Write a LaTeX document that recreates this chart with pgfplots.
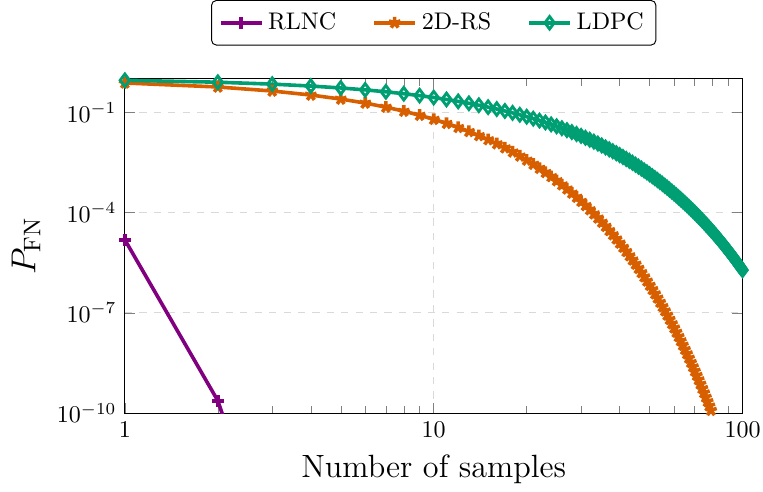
\documentclass[border=0pt]{standalone}
\usepackage{pgfplots}
\pgfplotsset{compat=1.18}
\definecolor{rlnc}{RGB}{128,0,128}
\definecolor{rscol}{RGB}{215,95,0}
\definecolor{ldpc}{RGB}{0,158,115}
\begin{document}
\begin{tikzpicture}
\begin{axis}[
    xmode=log, ymode=log,
    scale only axis,
    width=257pt, height=139pt,
    xmin=1, xmax=100, ymin=1e-10, ymax=1,
    xtick={1,10,100}, xticklabels={1,10,100},
    xticklabel style={inner xsep=1pt},
    ytick={1e-10,1e-7,1e-4,1e-1},
    grid=major,
    major grid style={dashed, gray!30},
    xlabel={Number of samples},
    ylabel={$P_{\mathrm{FN}}$},
    xlabel style={font=\fontsize{13.4}{16}\selectfont},
    ylabel style={font=\Large},
    legend columns=3,
    legend style={at={(0.5,1.1)}, anchor=south, rounded corners=2pt,
        inner ysep=3pt,
        /tikz/every even column/.append style={column sep=13pt}},
]
\addplot[color=rlnc, line width=1.5pt, mark=+, mark size=2.5pt] coordinates {
(1,1.53e-5) (2,2.33e-10) (3,3.55e-15)
};
\addplot[color=rscol, line width=1.5pt, mark=star, mark size=2.5pt] coordinates {
(1,0.7584) (2,0.5751) (3,0.4359) (4,0.3303) (5,0.2502) (6,0.1895) (7,0.1434) (8,0.1085) (9,0.0821) (10,0.06209)
(11,0.04695) (12,0.03548) (13,0.02681) (14,0.02025) (15,0.01529) (16,0.01154) (17,0.008705) (18,0.006566) (19,0.004953) (20,0.003733)
(21,0.002812) (22,0.002119) (23,0.001596) (24,0.001201) (25,9.043e-4) (26,6.803e-4) (27,5.116e-4) (28,3.847e-4) (29,2.893e-4) (30,2.173e-4)
(31,1.632e-4) (32,1.226e-4) (33,9.2e-5) (34,6.904e-5) (35,5.178e-5) (36,3.884e-5) (37,2.912e-5) (38,2.183e-5) (39,1.635e-5) (40,1.225e-5)
(41,9.169e-6) (42,6.863e-6) (43,5.135e-6) (44,3.841e-6) (45,2.873e-6) (46,2.148e-6) (47,1.605e-6) (48,1.199e-6) (49,8.956e-7) (50,6.683e-7)
(51,4.988e-7) (52,3.722e-7) (53,2.776e-7) (54,2.07e-7) (55,1.543e-7) (56,1.15e-7) (57,8.562e-8) (58,6.376e-8) (59,4.747e-8) (60,3.532e-8)
(61,2.627e-8) (62,1.954e-8) (63,1.453e-8) (64,1.08e-8) (65,8.023e-9) (66,5.957e-9) (67,4.423e-9) (68,3.283e-9) (69,2.436e-9) (70,1.807e-9)
(71,1.34e-9) (72,9.934e-10) (73,7.362e-10) (74,5.454e-10) (75,4.04e-10) (76,2.991e-10) (77,2.213e-10) (78,1.637e-10) (79,1.211e-10) (80,8.954e-11)
};
\addplot[color=ldpc, line width=1.5pt, mark=diamond, mark size=2.6pt, mark options={fill=none, line width=1.2pt}] coordinates {
(1,0.912) (2,0.799) (3,0.700) (4,0.6135) (5,0.5375) (6,0.471) (7,0.4127) (8,0.3616) (9,0.3168) (10,0.2776)
(11,0.2433) (12,0.2132) (13,0.1868) (14,0.1637) (15,0.1434) (16,0.1257) (17,0.1101) (18,0.09642) (19,0.08449) (20,0.07403)
(21,0.06487) (22,0.05683) (23,0.0498) (24,0.04363) (25,0.03823) (26,0.0335) (27,0.02935) (28,0.02572) (29,0.02254) (30,0.01975)
(31,0.0173) (32,0.01516) (33,0.01329) (34,0.01164) (35,0.0102) (36,0.008933) (37,0.007827) (38,0.006859) (39,0.006009) (40,0.005265)
(41,0.004613) (42,0.004042) (43,0.003542) (44,0.003103) (45,0.002719) (46,0.002383) (47,0.002088) (48,0.001829) (49,0.001603) (50,0.001404)
(51,0.00123) (52,0.001078) (53,9.446e-4) (54,8.275e-4) (55,7.252e-4) (56,6.354e-4) (57,5.567e-4) (58,4.878e-4) (59,4.274e-4) (60,3.745e-4)
(61,3.281e-4) (62,2.875e-4) (63,2.519e-4) (64,2.207e-4) (65,1.934e-4) (66,1.694e-4) (67,1.484e-4) (68,1.301e-4) (69,1.14e-4) (70,9.986e-5)
(71,8.75e-5) (72,7.667e-5) (73,6.717e-5) (74,5.885e-5) (75,5.157e-5) (76,4.519e-5) (77,3.959e-5) (78,3.469e-5) (79,3.04e-5) (80,2.663e-5)
(81,2.334e-5) (82,2.045e-5) (83,1.791e-5) (84,1.57e-5) (85,1.375e-5) (86,1.205e-5) (87,1.056e-5) (88,9.251e-6) (89,8.106e-6) (90,7.102e-6)
(91,6.223e-6) (92,5.452e-6) (93,4.778e-6) (94,4.187e-6) (95,3.668e-6) (96,3.214e-6) (97,2.816e-6) (98,2.468e-6) (99,2.162e-6) (100,1.894e-6)
};
\legend{RLNC,2D-RS,LDPC}
\end{axis}
\path ([xshift=-1.5pt]current bounding box.west);
\end{tikzpicture}
\end{document}
